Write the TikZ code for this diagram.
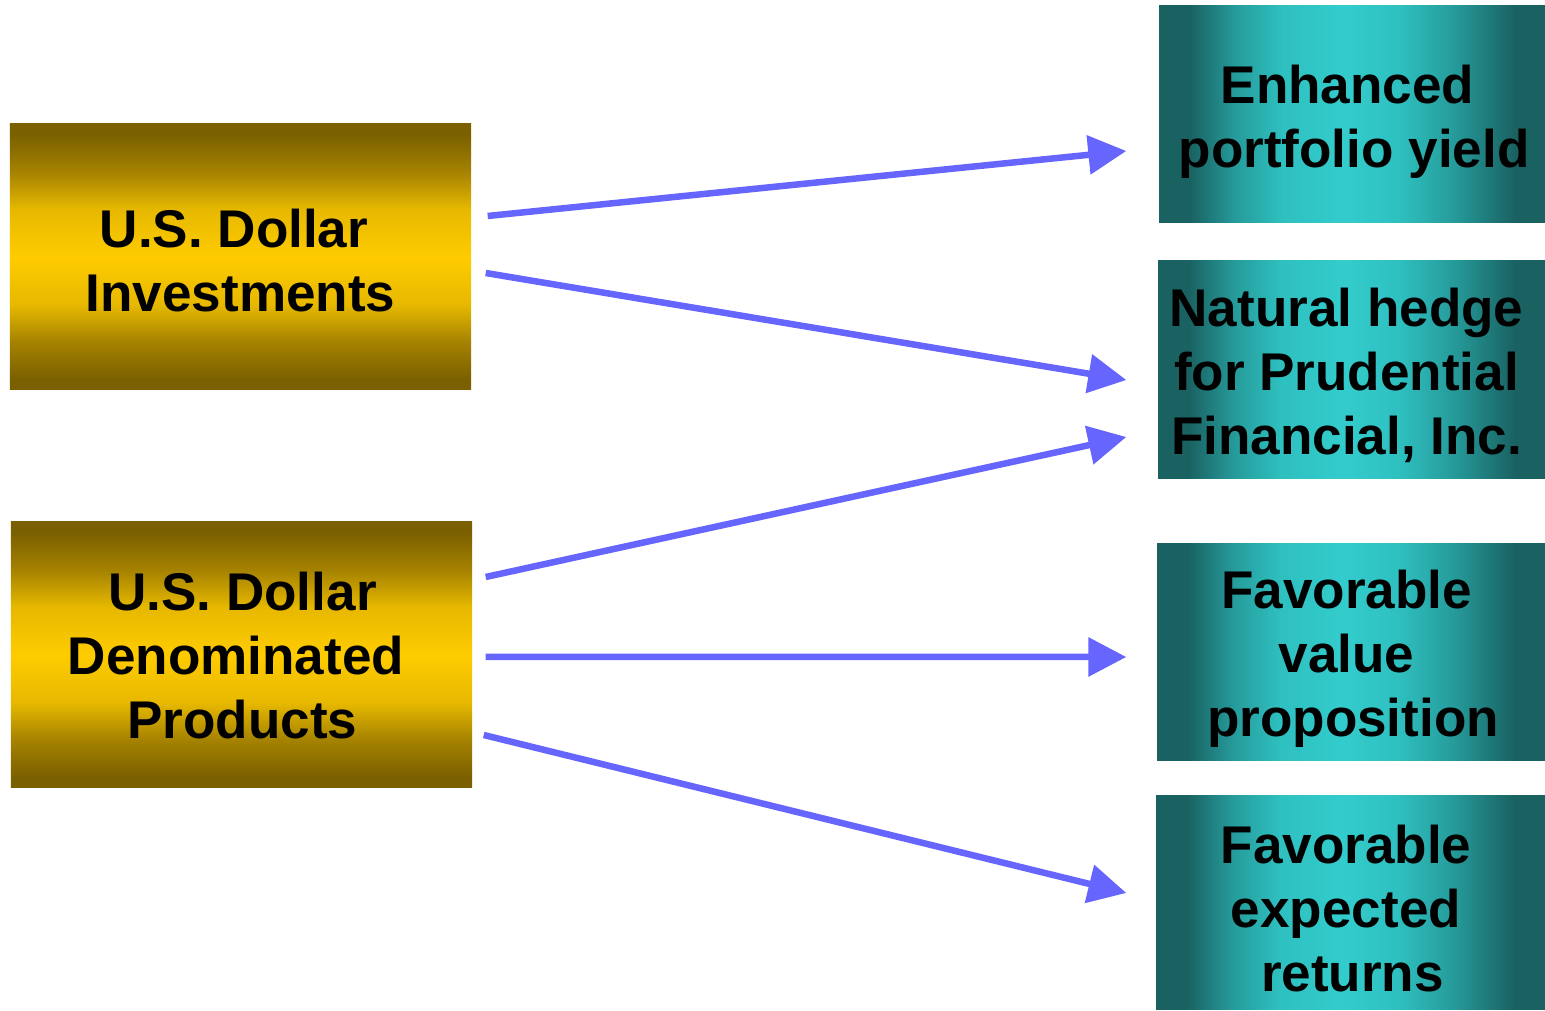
\documentclass[tikz,border=0pt]{standalone}
\usepackage{fontspec}
\setmainfont{Liberation Sans}
\usetikzlibrary{arrows.meta,calc}

\definecolor{golddark}{HTML}{7A6000}
\definecolor{goldmid}{HTML}{A58200}
\definecolor{goldhi}{HTML}{E6B800}
\definecolor{goldlight}{HTML}{FFCC00}
\definecolor{tealdark}{HTML}{1A6262}
\definecolor{tealmid}{HTML}{269C9C}
\definecolor{tealhi}{HTML}{2FC0C0}
\definecolor{teallight}{HTML}{33CCCC}
\definecolor{arrowblue}{HTML}{6666FF}

% gold bar: dark at top and bottom, bright in the middle
\pgfdeclareverticalshading{goldbar}{100bp}{%
  color(0bp)=(golddark); color(25bp)=(golddark); color(27bp)=(golddark);
  color(34bp)=(goldmid); color(41bp)=(goldhi); color(50bp)=(goldlight);
  color(59bp)=(goldhi); color(66bp)=(goldmid);
  color(73bp)=(golddark); color(75bp)=(golddark); color(100bp)=(golddark)}
% teal bar: dark at both sides, bright just left of centre
\pgfdeclarehorizontalshading{tealbar}{100bp}{%
  color(0bp)=(tealdark); color(25bp)=(tealdark); color(29bp)=(tealdark);
  color(35bp)=(tealmid); color(41bp)=(tealhi); color(49bp)=(teallight);
  color(56bp)=(tealhi); color(63bp)=(tealmid);
  color(71bp)=(tealdark); color(75bp)=(tealdark); color(100bp)=(tealdark)}

% a wrapped line keeps its trailing word space
\newcommand{\wrapsp}{\kern0.13cm}

\tikzset{
  txt/.style={font=\fontsize{15.1pt}{18.2pt}\selectfont\bfseries, align=center, inner sep=0pt},
  sourcebox/.style={shading=goldbar, inner sep=0pt, minimum width=4.61cm, minimum height=2.66cm},
  resultbox/.style={shading=tealbar, inner sep=0pt, minimum width=3.87cm, minimum height=2.17cm},
  arr/.style={arrowblue, line width=0.065cm, -{Triangle[length=0.38cm,width=0.38cm]}}
}

\begin{document}
\begin{tikzpicture}
\useasboundingbox (0,0) rectangle (15.45,10.11);

% sources
\node[sourcebox] (L1) at (2.405,7.54) {};
\node[sourcebox] (L2) at (2.415,3.56) {};
\node[txt] (L1t) at ([shift={(0,-0.04)}]L1.center) {U.S. Dollar\wrapsp\\Investments};
\node[txt] (L2t) at ([shift={(0.01,-0.01)}]L2.center) {U.S. Dollar\\Denominated\wrapsp\\Products};

% outcomes
\node[resultbox, minimum width=3.86cm] (R1) at (13.52,8.965) {};
\node[resultbox, minimum height=2.18cm] (R2) at (13.515,6.41) {};
\node[resultbox, minimum width=3.88cm] (R3) at (13.51,3.585) {};
\node[resultbox, minimum width=3.89cm, minimum height=2.14cm] (R4) at (13.505,1.08) {};
\node[txt] (R1t) at ([shift={(0.02,-0.07)}]R1.center) {Enhanced\wrapsp\\portfolio yield};
\node[txt] (R2t) at ([shift={(-0.05,-0.05)}]R2.center) {Natural hedge\\for Prudential\\Financial, Inc.};
\node[txt] (R3t) at ([shift={(0.02,-0.06)}]R3.center) {Favorable\wrapsp\\value\wrapsp\\proposition};
\node[txt] (R4t) at ([shift={(0.02,-0.06)}]R4.center) {Favorable\wrapsp\\expected\wrapsp\\returns};

% links
\draw[arr] ([shift={(0.16,0.41)}]L1.east) -- ([shift={(-0.32,-0.365)}]R1.west);
\draw[arr] ([shift={(0.14,-0.16)}]L1.east) -- ([shift={(-0.31,-0.10)}]R2.west);
\draw[arr] ([shift={(0.13,0.78)}]L2.east) -- ([shift={(-0.31,-0.67)}]R2.west);
\draw[arr] ([shift={(0.13,-0.02)}]L2.east) -- ([shift={(-0.30,-0.045)}]R3.west);
\draw[arr] ([shift={(0.11,-0.80)}]L2.east) -- ([shift={(-0.29,0.10)}]R4.west);
\end{tikzpicture}
\end{document}
